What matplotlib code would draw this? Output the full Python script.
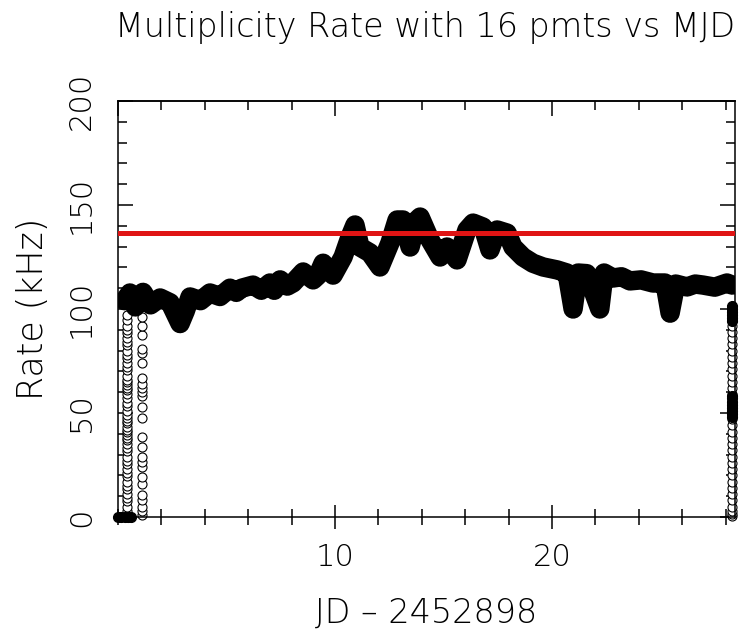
import matplotlib
matplotlib.use("Agg")
import matplotlib.pyplot as plt
from matplotlib.ticker import MultipleLocator

# main rate trace (JD - 2452898, kHz)
trace_x = [0.30, 0.55, 0.80, 1.00, 1.15, 1.50, 1.94, 2.40, 2.86, 3.10, 3.32, 3.80, 4.24,
           4.70, 5.16, 5.45, 5.70, 6.22, 6.60, 7.00, 7.20, 7.47, 7.80, 8.06, 8.53, 8.99,
           9.20, 9.45, 9.91, 10.37, 10.69, 10.92, 11.15, 11.61, 12.07, 12.53, 12.86,
           13.13, 13.46, 13.78, 13.92, 14.38, 14.84, 15.16, 15.62, 16.08, 16.36, 16.82,
           17.14, 17.47, 17.93, 18.20, 18.66, 19.12, 19.59, 20.23, 20.69, 20.97, 21.20,
           21.60, 22.20, 22.40, 22.81, 23.20, 23.59, 24.10, 24.65, 25.20, 25.44, 25.70,
           26.22, 26.60, 26.96, 27.50, 28.06, 28.30]
trace_y = [104.0, 107.7, 101.0, 104.0, 108.0, 102.0, 105.3, 103.0, 93.0, 99.0, 105.8,
           104.0, 107.7, 106.0, 110.0, 108.0, 110.0, 111.5, 109.0, 112.5, 109.0, 114.0,
           111.0, 112.5, 117.8, 114.0, 116.0, 122.0, 116.3, 125.0, 134.6, 140.4, 129.8,
           127.0, 120.2, 131.7, 142.8, 142.8, 129.8, 142.8, 144.2, 133.2, 125.0, 129.8,
           123.6, 138.0, 141.3, 139.4, 128.4, 138.0, 136.5, 129.8, 125.0, 122.0, 120.2,
           118.8, 117.3, 100.0, 117.3, 117.0, 100.0, 117.3, 114.9, 115.5, 113.5, 114.0,
           112.5, 112.5, 98.0, 112.0, 110.6, 112.0, 111.5, 110.5, 112.5, 111.5]

# sparse points at start of run
col_a_x = 0.42
col_a_y = [1, 3, 5, 7.5, 9, 11, 13.5, 15, 17, 19.5, 21, 23, 25.5, 27, 29, 31.5, 33, 35,
           37, 38, 39.5, 41, 42, 43.5, 45, 46, 47.5, 49, 51, 53.5, 55, 57, 59, 61, 62,
           63.5, 65, 66, 68, 70.5, 72, 74, 76.5, 78, 80, 82.5, 84, 86, 88.5, 90, 92, 94.5, 97]
col_b_x = 1.12
col_b_y = [1, 3, 5, 8, 10.5, 16, 19, 24, 26.5, 29, 33.7, 38.5, 47.6, 53, 58, 60, 62, 64,
           67, 74, 79, 81, 87.5, 92, 96]
zero_x = [0.0, 0.15, 0.30, 0.45, 0.60]
zero_y = [0, 0, 0, 0, 0]

# sparse points at end of run
col_c_x = 28.3
col_c_y = [0.5, 1.5, 3, 5, 8, 11, 14, 17, 20, 23, 26, 29, 32, 35, 38, 41, 44, 47, 50,
           53, 56, 59, 62, 65, 68, 71, 74, 77, 80, 83, 86, 89, 92, 95, 98, 101]
blob_c_y = [48, 49.5, 51, 52.5, 54, 55.5, 57, 58, 94, 95.5, 97, 98.5, 100, 101.5]

threshold = 136.5

font = {"family": ["DejaVu Sans"], "weight": "ultralight"}

fig = plt.figure(figsize=(7.45, 6.35), dpi=100)
ax = fig.add_axes([118 / 745, 1 - 517 / 635, 617 / 745, 416 / 635])

ax.plot(trace_x, trace_y, color="black", lw=14, solid_joinstyle="round",
        solid_capstyle="round", zorder=3)
ax.plot([col_a_x] * len(col_a_y), col_a_y, "o", ms=6.5, mfc="white", mec="black",
        mew=0.8, clip_on=False, zorder=2)
ax.plot([col_b_x] * len(col_b_y), col_b_y, "o", ms=6.5, mfc="white", mec="black",
        mew=0.8, clip_on=False, zorder=2)
ax.plot(zero_x, zero_y, "o", ms=7, color="black", clip_on=False, zorder=4)
ax.plot([col_c_x] * len(col_c_y), col_c_y, "o", ms=6.5, mfc="white", mec="black",
        mew=0.8, clip_on=False, zorder=2)
ax.plot([col_c_x] * len(blob_c_y), blob_c_y, "o", ms=7, color="black",
        clip_on=False, zorder=4)

ax.axhline(threshold, color="#e01414", lw=3.6, zorder=5)

ax.set_xlim(0, 28.43)
ax.set_ylim(0, 200)
ax.xaxis.set_major_locator(MultipleLocator(10))
ax.xaxis.set_minor_locator(MultipleLocator(2))
ax.yaxis.set_major_locator(MultipleLocator(50))
ax.yaxis.set_minor_locator(MultipleLocator(10))

for s in ax.spines.values():
    s.set_linewidth(1.1)

ax.tick_params(axis="x", which="both", direction="inout", top=False, width=1.1)
ax.tick_params(axis="x", which="major", length=17, pad=10)
ax.tick_params(axis="x", which="minor", length=11)
ax.tick_params(axis="y", which="both", direction="in", right=True, width=1.1)
ax.tick_params(axis="y", which="major", length=11, pad=16)
ax.tick_params(axis="y", which="minor", length=6.5)

# top axis: inward ticks only
top = ax.secondary_xaxis("top")
top.xaxis.set_major_locator(MultipleLocator(10))
top.xaxis.set_minor_locator(MultipleLocator(2))
top.tick_params(which="both", direction="in", width=1.1, labeltop=False)
top.tick_params(which="major", length=11)
top.tick_params(which="minor", length=6.5)
top.spines["top"].set_linewidth(1.1)

ax.set_xticks([10, 20])
ax.set_xticklabels(["10", "20"], fontsize=22, **font)
ax.set_yticks([0, 50, 100, 150, 200])
ax.set_yticklabels(["0", "50", "100", "150", "200"], fontsize=22, rotation=90,
                   va="center", **font)

ax.set_xlabel("JD \u2013 2452898", fontsize=24, labelpad=18, **font)
ax.set_ylabel("Rate (kHz)", fontsize=25, labelpad=12, **font)
fig.text(0.571, 0.956, "Multiplicity Rate with 16 pmts vs MJD", ha="center",
         va="center", fontsize=24, **font)

fig.savefig("out.png", dpi=100)
